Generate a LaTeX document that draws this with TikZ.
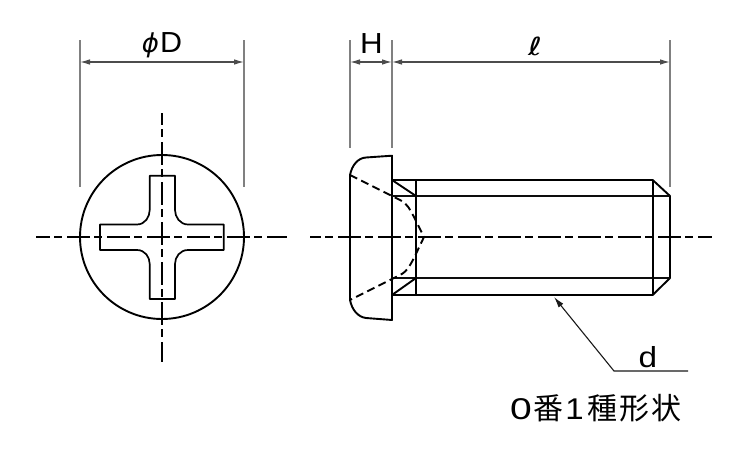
\documentclass[tikz,border=0pt]{standalone}
\usepackage{fontspec}
\setmainfont{Liberation Sans}
\newfontfamily\cjk{Noto Sans CJK JP}
\newfontfamily\symfont{DejaVu Sans}
\usetikzlibrary{arrows.meta}
\definecolor{dimgray}{gray}{0.5}
\tikzset{
  outline/.style={draw=black,line width=1.9pt,line join=round},
  thin outline/.style={draw=black!95,line width=1.7pt},
  hidden/.style={draw=black,line width=1.9pt,dash pattern=on 8pt off 4.5pt},
  axis/.style={draw=black,line width=1.8pt,dash pattern=on 23pt off 4pt on 8pt off 5pt},
  extline/.style={draw=dimgray,line width=1.1pt},
  dimline/.style={draw=black!70,line width=1.1pt,{Latex[length=10pt,width=5.5pt]}-{Latex[length=10pt,width=5.5pt]}},
  label/.style={inner sep=0pt,font=\fontsize{29}{29}\selectfont},
}
\begin{document}
\begin{tikzpicture}[x=1pt,y=-1pt]
\useasboundingbox (0,0) rectangle (750,450);
% coordinates
\coordinate (dl) at (80,62); \coordinate (dr) at (244,62);
\coordinate (hl) at (350,62); \coordinate (hr) at (392,62); \coordinate (lr) at (670,62);
% front view
\node[circle,outline,minimum size=164pt,inner sep=0pt] (headface) at (162,237) {};
\draw[outline,line width=1.7pt] (149.7,175.7) -- (175,175.7) -- (175,210)
  .. controls (175,217) and (180,224.5) .. (188,224.5) -- (223.7,224.5) -- (223.7,250) -- (188,250)
  .. controls (180,250) and (175,257) .. (175,264) -- (175,299) -- (149.7,299) -- (149.7,264)
  .. controls (149.7,257) and (145,250) .. (137,250) -- (100,250) -- (100,224.5) -- (137,224.5)
  .. controls (145,224.5) and (149.7,217) .. (149.7,210) -- cycle;
\coordinate (vt) at (162,113); \coordinate (vb) at (162,362);
\coordinate (hl1) at (36,237); \coordinate (hr1) at (287,237);
\draw[axis,dash phase=11pt] (vt) -- (vb);
\draw[axis,dash phase=9pt] (hl1) -- (hr1);
% extension lines front
\draw[extline] (80,40) -- (80,187);
\draw[extline] (244,40) -- (244,187);
\draw[dimline] (dl) -- (dr);
\node[label,anchor=center] (phid) at (162,45.5) {{\symfont\itshape\fontsize{26}{26}\selectfont ϕ}\kern1pt\scalebox{1.05}[1]{D}};
% side view: head
\draw[outline] (350,175) .. controls (352,165) and (358,158) .. (366,157.5) -- (392,155.7) -- (392,320) -- (366,318) .. controls (358,317) and (352,310) .. (350,300) -- cycle;
% shaft
\draw[outline] (392,180) -- (652.7,180) -- (670,196) -- (670,278) -- (652.7,295) -- (392,295);
\draw[thin outline] (392,196) -- (670,196);
\draw[thin outline] (392,278) -- (670,278);
\draw[outline] (416,180) -- (416,295);
\draw[outline] (652.7,180) -- (652.7,295);
\draw[outline] (392,180) -- (416,196);
\draw[outline] (392,295) -- (416,278);
% recess
\draw[hidden] (350,175) -- (400,200) .. controls (408,204) and (410,210) .. (414,217) -- (424,237) -- (414,258) .. controls (410,265) and (408,271) .. (400,275) -- (350,300);
% axis
\coordinate (al) at (310,237); \coordinate (ar) at (712,237);
\draw[axis,dash phase=12pt] (al) -- (ar);
% dims
\draw[extline] (350,40) -- (350,148);
\draw[extline] (392,40) -- (392,148);
\draw[extline] (670,40) -- (670,187);
\draw[dimline] (hl) -- (hr);
\draw[dimline] (hr) -- (lr);
\node[label] (H) at (371.5,44) {\scalebox{1.08}[1]{H}};
\node[label] (ell) at (535,46) {\symfont\fontsize{25}{25}\selectfont\scalebox{1.35}[1]{ℓ}};
% leader
\coordinate (tip) at (554,297); \coordinate (knee) at (614,371); \coordinate (lend) at (688,371);
\draw[draw=black!90,line width=1.1pt,{Latex[length=11pt,width=6pt]}-] (tip) -- (knee) -- (lend);
\node[label] (d) at (648,357.5) {\scalebox{1.15}[1]{d}};
\node[inner sep=0pt,anchor=west] (title) at (510,408) {\cjk\fontsize{30}{30}\selectfont\scalebox{1.3}[1]{\fontspec{Liberation Sans}0}\kern2pt 番\kern1.5pt\scalebox{1.1}[1]{\fontspec{Liberation Sans}1}\kern3.5pt 種\kern2.5pt 形\kern1.5pt 状};
\end{tikzpicture}
\end{document}
